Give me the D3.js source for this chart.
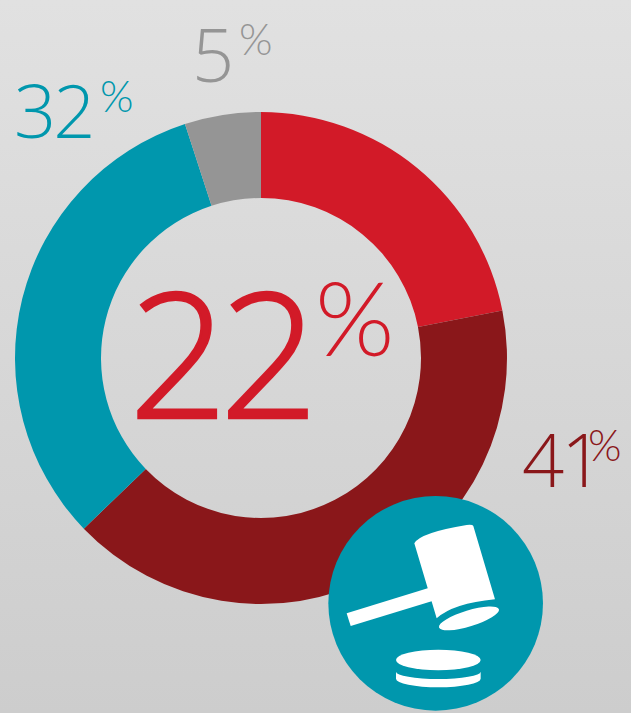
<!DOCTYPE html>
<html><head><meta charset="utf-8">
<script src="https://cdn.jsdelivr.net/npm/d3@7/dist/d3.min.js"></script>
<style>html,body{margin:0;padding:0;background:#d8d8d8}svg{display:block}
text{font-family:"Open Sans",Roboto,sans-serif;font-weight:300}
text.pct{font-family:Lato,"Open Sans",sans-serif}</style>
</head><body><div id="c"></div>
<script>
const categories = ["Red","Dark red","Teal","Gray"];
const values = [21.9,40.9,32.2,5];
const colors = ["#d21a28","#8a171a","#0097ad","#959595"];
const labels = ["22","41","32","5"];
const W=631,H=713,cx=261,cy=358,R=246,r=160;
const svg=d3.select("#c").append("svg").attr("width",W).attr("height",H);
const g0=svg.append("defs").append("linearGradient").attr("id","bg").attr("x1",0).attr("x2",0).attr("y1",0).attr("y2",1);
g0.append("stop").attr("offset",0).attr("stop-color","#e1e1e1");
g0.append("stop").attr("offset",1).attr("stop-color","#cdcdcd");
svg.append("rect").attr("width",W).attr("height",H).attr("fill","url(#bg)");
const pie=d3.pie().sort(null).value(d=>d)(values);
const arc=d3.arc().innerRadius(r).outerRadius(R);
svg.append("g").attr("transform",`translate(${cx},${cy})`).selectAll("path").data(pie).join("path")
  .attr("d",arc).attr("fill",(d,i)=>colors[i]);
const layout=[
 {i:0,x:129,y:418,fs:173,ls:-8,sw:2.5,px:315,py:356,pfs:102,trail:-8},
 {i:1,x:522,y:487,fs:74,ls:-3,sw:0,px:588,py:461,pfs:43,trail:-16},
 {i:2,x:14,y:138,fs:74,ls:-3,sw:0,px:100,py:112,pfs:43,trail:-3},
 {i:3,x:192,y:82,fs:74,ls:0,sw:0,px:239,py:55,pfs:43,trail:0}];
layout.forEach(l=>{
 const t=svg.append("text").attr("x",l.x).attr("y",l.y).attr("font-size",l.fs)
   .attr("fill",colors[l.i]).attr("stroke",colors[l.i]).attr("stroke-width",l.sw);
 const s=labels[l.i];
 t.append("tspan").attr("letter-spacing",l.ls).text(s.slice(0,-1));
 t.append("tspan").attr("letter-spacing",l.trail).text(s.slice(-1));
 svg.append("text").attr("class","pct").attr("x",l.px).attr("y",l.py).attr("font-size",l.pfs).attr("fill",colors[l.i]).text("%");
});
const ic=svg.append("g").attr("transform","translate(320,490) scale(0.3333)");
ic.append("circle").attr("cx",347).attr("cy",340).attr("r",322).attr("fill","#0097ad");
const paths=["M283 160Q300 128 440 105Q458 103 460 108L525 328Q400 340 350 385Z",
"M80 370L345 288L357 327L92 408Z",
"M228 545A127 22 0 0 0 482 545V566A127 26 0 0 1 228 566Z"];
paths.forEach(d=>ic.append("path").attr("d",d).attr("fill","#fff"));
ic.append("ellipse").attr("cx",447).attr("cy",385).attr("rx",94).attr("ry",24).attr("transform","rotate(-17 447 385)").attr("fill","#fff");
ic.append("ellipse").attr("cx",355).attr("cy",510).attr("rx",127).attr("ry",31).attr("fill","#fff");
</script></body></html>
